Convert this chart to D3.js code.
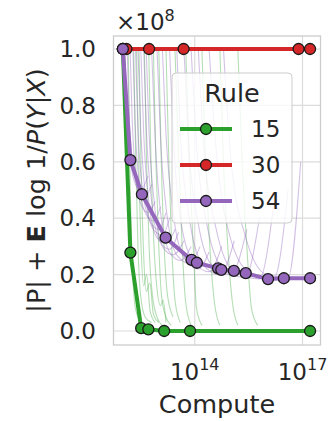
<!DOCTYPE html>
<html>
<head>
<meta charset="utf-8">
<script src="https://cdn.jsdelivr.net/npm/d3@7"></script>
<style>
  body { margin: 0; background: #fff; }
  svg { font-family: "DejaVu Sans", sans-serif; }
</style>
</head>
<body>
<svg width="328" height="421"></svg>
<script>
// compute given as log10(FLOPs), values in units of 1e8
const ruleNames = ["15", "30", "54"]
const ruleColors = ["#2ca02c", "#d62728", "#9467bd"]

const compute15 = [12.0, 12.21, 12.51, 12.71, 13.15, 13.87, 17.21]
const value15 = [1.0, 0.278, 0.010, 0.006, 0.0, 0.0, 0.0]

const compute30 = [12.0, 12.10, 12.73, 13.69, 16.89, 17.21]
const value30 = [1.0, 1.0, 1.0, 1.0, 1.0, 1.0]

const compute54 = [12.0, 12.21, 12.53, 13.19, 13.91, 14.06, 14.65, 14.74, 15.09, 15.42, 16.04, 16.48, 17.21]
const value54 = [1.0, 0.606, 0.485, 0.331, 0.252, 0.242, 0.222, 0.217, 0.213, 0.205, 0.184, 0.187, 0.187]

// individual training runs (thin lines): [log10 compute, value]
const runs15 = [
    [[12.15, 1.0], [12.2, 0.55], [12.26, 0.25], [12.35, 0.08], [12.5, 0.03]],
    [[12.3, 1.0], [12.36, 0.6], [12.42, 0.3], [12.5, 0.12], [12.62, 0.05], [12.8, 0.03]],
    [[12.38, 1.0], [12.44, 0.6], [12.5, 0.32], [12.58, 0.16], [12.66, 0.2], [12.76, 0.07], [12.9, 0.03]],
    [[12.45, 1.0], [12.5, 0.62], [12.57, 0.3], [12.65, 0.14], [12.75, 0.17], [12.85, 0.06], [13.0, 0.03]],
    [[12.6, 1.0], [12.66, 0.6], [12.73, 0.3], [12.82, 0.13], [12.95, 0.05], [13.1, 0.02]],
    [[12.72, 1.0], [12.78, 0.62], [12.86, 0.32], [12.95, 0.15], [13.05, 0.09], [13.12, 0.11], [13.2, 0.03]],
    [[12.85, 1.0], [12.92, 0.6], [13.0, 0.3], [13.08, 0.12], [13.2, 0.05], [13.35, 0.02]],
    [[13.0, 1.0], [13.07, 0.6], [13.15, 0.3], [13.25, 0.12], [13.4, 0.05]],
    [[13.2, 1.0], [13.28, 0.6], [13.36, 0.3], [13.46, 0.1], [13.6, 0.03]],
    [[13.45, 1.0], [13.55, 0.62], [13.65, 0.3], [13.75, 0.1], [13.9, 0.02]],
    [[13.75, 1.0], [13.85, 0.6], [13.96, 0.3], [14.05, 0.08], [14.2, 0.02]],
    [[14.2, 1.0], [14.3, 0.62], [14.42, 0.3], [14.55, 0.1], [14.7, 0.02]],
    [[14.7, 1.0], [14.8, 0.6], [14.92, 0.3], [15.05, 0.1], [15.2, 0.02]],
    [[15.2, 1.0], [15.32, 0.6], [15.45, 0.3], [15.58, 0.08], [15.75, 0.02]]
]

const runs54 = [
    [[12.05, 1.0], [12.1, 0.8], [12.2, 0.62], [12.35, 0.52], [12.5, 0.5], [12.7, 0.55]],
    [[12.12, 1.0], [12.17, 0.78], [12.27, 0.6], [12.42, 0.5], [12.6, 0.47], [12.8, 0.52]],
    [[12.2, 1.0], [12.26, 0.75], [12.36, 0.55], [12.5, 0.45], [12.7, 0.42], [12.9, 0.46]],
    [[12.28, 1.0], [12.34, 0.74], [12.45, 0.53], [12.62, 0.42], [12.85, 0.39], [13.05, 0.44]],
    [[12.35, 1.0], [12.42, 0.72], [12.55, 0.5], [12.75, 0.39], [13.0, 0.36], [13.2, 0.42]],
    [[12.42, 1.0], [12.5, 0.71], [12.63, 0.48], [12.85, 0.36], [13.1, 0.34], [13.3, 0.4]],
    [[12.5, 1.0], [12.58, 0.7], [12.72, 0.46], [12.95, 0.33], [13.2, 0.31], [13.45, 0.36]],
    [[12.58, 1.0], [12.66, 0.7], [12.8, 0.46], [13.02, 0.32], [13.3, 0.29], [13.55, 0.35]],
    [[12.65, 1.0], [12.73, 0.7], [12.88, 0.45], [13.1, 0.3], [13.4, 0.27], [13.7, 0.32]],
    [[12.8, 1.0], [12.9, 0.68], [13.05, 0.42], [13.3, 0.28], [13.6, 0.25], [13.9, 0.3]],
    [[12.95, 1.0], [13.05, 0.68], [13.22, 0.42], [13.5, 0.27], [13.85, 0.24], [14.15, 0.3]],
    [[13.1, 1.0], [13.2, 0.7], [13.4, 0.42], [13.7, 0.26], [14.1, 0.22], [14.4, 0.28]],
    [[13.3, 1.0], [13.4, 0.7], [13.6, 0.4], [13.95, 0.25], [14.4, 0.21], [14.75, 0.3]],
    [[13.5, 1.0], [13.6, 0.7], [13.85, 0.4], [14.2, 0.24], [14.7, 0.2], [15.1, 0.32]],
    [[13.7, 1.0], [13.82, 0.68], [14.1, 0.38], [14.5, 0.23], [15.0, 0.2], [15.45, 0.36]],
    [[13.9, 1.0], [14.05, 0.66], [14.35, 0.37], [14.8, 0.22], [15.4, 0.19], [15.8, 0.4]],
    [[14.1, 1.0], [14.25, 0.66], [14.6, 0.36], [15.1, 0.21], [15.8, 0.185], [16.2, 0.45]],
    [[14.4, 1.0], [14.6, 0.64], [14.95, 0.35], [15.5, 0.21], [16.2, 0.185], [16.6, 0.5]],
    [[14.8, 1.0], [15.0, 0.62], [15.4, 0.34], [16.0, 0.2], [16.6, 0.19], [16.95, 0.6]]
]

const xTicks = [14, 17]
const yTicks = [0.0, 0.2, 0.4, 0.6, 0.8, 1.0]

const svg = d3.select("svg")

// plot frame
const plotLeft = 113.5, plotRight = 320.5, plotTop = 36, plotBottom = 345

const x = d3.scaleLinear().domain([11.74, 17.5]).range([plotLeft, plotRight])
const y = d3.scaleLinear().domain([0, 1]).range([331, 49])

// grid
svg.append("g")
    .selectAll("line")
    .data(yTicks)
    .enter()
    .append("line")
    .attr("x1", plotLeft)
    .attr("x2", plotRight)
    .attr("y1", d => y(d))
    .attr("y2", d => y(d))
    .style("stroke", "#dcdcdc")
    .style("stroke-width", 1.2)

svg.append("g")
    .selectAll("line")
    .data(xTicks)
    .enter()
    .append("line")
    .attr("x1", d => x(d))
    .attr("x2", d => x(d))
    .attr("y1", plotTop)
    .attr("y2", plotBottom)
    .style("stroke", "#dcdcdc")
    .style("stroke-width", 1.2)

const clip = svg.append("clipPath").attr("id", "plotClip")
clip.append("rect")
    .attr("x", plotLeft)
    .attr("y", plotTop)
    .attr("width", plotRight - plotLeft)
    .attr("height", plotBottom - plotTop)

const plot = svg.append("g").attr("clip-path", "url(#plotClip)")

const thinLine = d3.line()
    .x(d => x(d[0]))
    .y(d => y(d[1]))
    .curve(d3.curveMonotoneX)

// thin runs
plot.append("g")
    .selectAll("path")
    .data(runs15)
    .enter()
    .append("path")
    .attr("d", thinLine)
    .style("fill", "none")
    .style("stroke", ruleColors[0])
    .style("stroke-opacity", 0.35)
    .style("stroke-width", 1.1)

plot.append("g")
    .selectAll("path")
    .data(runs54)
    .enter()
    .append("path")
    .attr("d", thinLine)
    .style("fill", "none")
    .style("stroke", ruleColors[2])
    .style("stroke-opacity", 0.4)
    .style("stroke-width", 1.1)

// frontier lines
const series = [
    d3.zip(compute15, value15),
    d3.zip(compute30, value30),
    d3.zip(compute54, value54)
]

const mainLine = d3.line()
    .x(d => x(d[0]))
    .y(d => y(d[1]))

series.forEach((s, i) => {
    const g = plot.append("g")
    g.append("path")
        .attr("d", mainLine(s))
        .style("fill", "none")
        .style("stroke", ruleColors[i])
        .style("stroke-width", 4)
        .style("stroke-linejoin", "round")
    g.selectAll("circle")
        .data(s)
        .enter()
        .append("circle")
        .attr("cx", d => x(d[0]))
        .attr("cy", d => y(d[1]))
        .attr("r", 5.5)
        .style("fill", ruleColors[i])
        .style("stroke", "#1a1a1a")
        .style("stroke-width", 1.3)
})

// frame
svg.append("rect")
    .attr("x", plotLeft)
    .attr("y", plotTop)
    .attr("width", plotRight - plotLeft)
    .attr("height", plotBottom - plotTop)
    .style("fill", "none")
    .style("stroke", "#cccccc")
    .style("stroke-width", 1.3)

// y tick labels
svg.append("g")
    .selectAll("text")
    .data(yTicks)
    .enter()
    .append("text")
    .attr("x", 96)
    .attr("y", d => y(d))
    .attr("dy", "0.36em")
    .style("text-anchor", "end")
    .style("font-size", "23px")
    .style("fill", "#262626")
    .text(d => d.toFixed(1))

// offset text
const off = svg.append("text")
    .attr("x", 116)
    .attr("y", 30)
    .style("font-size", "23px")
    .style("fill", "#262626")
off.append("tspan").text("×10")
off.append("tspan")
    .attr("dy", -9)
    .style("font-size", "16px")
    .text("8")

// x tick labels
const xt = svg.append("g")
    .selectAll("text")
    .data(xTicks)
    .enter()
    .append("text")
    .attr("x", d => x(d))
    .attr("y", 380)
    .style("text-anchor", "middle")
    .style("font-size", "23px")
    .style("fill", "#262626")
xt.append("tspan").text("10")
xt.append("tspan")
    .attr("dy", -10)
    .style("font-size", "16px")
    .text(d => d)

// axis labels
svg.append("text")
    .attr("x", (plotLeft + plotRight) / 2)
    .attr("y", 413)
    .style("text-anchor", "middle")
    .style("font-size", "25.5px")
    .style("fill", "#262626")
    .text("Compute")

const yl = svg.append("text")
    .attr("transform", "translate(45," + ((plotTop + plotBottom) / 2) + ") rotate(-90)")
    .style("text-anchor", "middle")
    .style("font-size", "25.5px")
    .style("fill", "#262626")
yl.append("tspan").text("|P| + ")
yl.append("tspan").style("font-weight", "bold").text("E")
yl.append("tspan").text(" log 1/")
yl.append("tspan").style("font-style", "italic").text("P")
yl.append("tspan").text("(")
yl.append("tspan").style("font-style", "italic").text("Y")
yl.append("tspan").text("|")
yl.append("tspan").style("font-style", "italic").text("X")
yl.append("tspan").text(")")

// legend
const legend = svg.append("g").attr("transform", "translate(172,73)")
legend.append("rect")
    .attr("width", 120)
    .attr("height", 150)
    .attr("rx", 4)
    .style("fill", "#ffffff")
    .style("fill-opacity", 0.8)
    .style("stroke", "#cccccc")
    .style("stroke-width", 1)

legend.append("text")
    .attr("x", 60)
    .attr("y", 29)
    .style("text-anchor", "middle")
    .style("font-size", "25.5px")
    .style("fill", "#262626")
    .text("Rule")

const entry = legend.selectAll("g.entry")
    .data(ruleNames)
    .enter()
    .append("g")
    .attr("class", "entry")
    .attr("transform", (d, i) => "translate(0," + (56 + i * 36) + ")")

entry.append("line")
    .attr("x1", 8)
    .attr("x2", 60)
    .style("stroke", (d, i) => ruleColors[i])
    .style("stroke-width", 4)

entry.append("circle")
    .attr("cx", 34)
    .attr("r", 5.5)
    .style("fill", (d, i) => ruleColors[i])
    .style("stroke", "#1a1a1a")
    .style("stroke-width", 1.3)

entry.append("text")
    .attr("x", 79)
    .attr("dy", "0.36em")
    .style("font-size", "23px")
    .style("fill", "#262626")
    .text(d => d)
</script>
</body>
</html>
